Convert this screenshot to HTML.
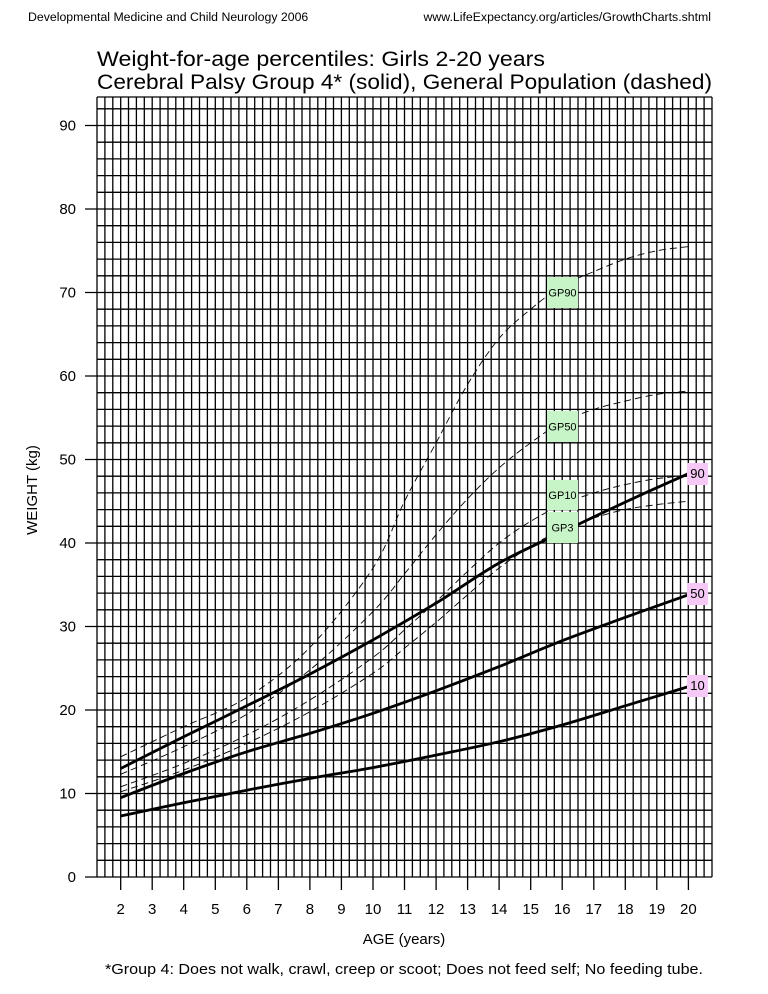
<!DOCTYPE html>
<html><head><meta charset="utf-8"><style>
html,body{margin:0;padding:0;background:#fff;width:768px;height:994px;overflow:hidden}
svg{display:block;font-family:"Liberation Sans",Arial,sans-serif}
</style></head><body>
<svg id="s" width="768" height="994" viewBox="0 0 768 994" xmlns="http://www.w3.org/2000/svg">
<text x="28" y="21" font-size="12.3">Developmental Medicine and Child Neurology 2006</text>
<text x="711" y="21" font-size="12.3" text-anchor="end">www.LifeExpectancy.org/articles/GrowthCharts.shtml</text>
<text x="97" y="66" font-size="21.5" textLength="448" lengthAdjust="spacingAndGlyphs">Weight-for-age percentiles: Girls 2-20 years</text>
<text x="97" y="89" font-size="21.5" textLength="615" lengthAdjust="spacingAndGlyphs">Cerebral Palsy Group 4* (solid), General Population (dashed)</text>
<text x="37" y="490" font-size="15" text-anchor="middle" transform="rotate(-90 37 490)">WEIGHT (kg)</text>
<text x="404" y="944" font-size="15" text-anchor="middle">AGE (years)</text>
<text x="404" y="974" font-size="15" text-anchor="middle" textLength="598" lengthAdjust="spacingAndGlyphs">*Group 4: Does not walk, crawl, creep or scoot; Does not feed self; No feeding tube.</text>
<g id="grid" stroke="#000" stroke-width="1.3" fill="none"></g>
<g id="lab" font-size="15"></g>
<g id="curves" fill="none" stroke="#000"></g>
<g id="boxes"></g>
</svg>
<script>
var NS="http://www.w3.org/2000/svg";
function X(a){return 97+(a-1.25)*31.54}
function Y(w){return 877-w*8.35}
function el(p,t,at,txt){var e=document.createElementNS(NS,t);for(var k in at)e.setAttribute(k,at[k]);if(txt!=null)e.textContent=txt;p.appendChild(e);return e}
var g=document.getElementById('grid'),d="";
for(var i=0;i<=78;i++){var x=(97+i*615/78).toFixed(1);d+="M"+x+" 97V877"}
for(var w=0;w<=92;w+=2){var y=Y(w).toFixed(1);d+="M97 "+y+"H712"}
d+="M97 97H712";
for(var w=0;w<=90;w+=10){d+="M85 "+Y(w).toFixed(1)+"H97"}
for(var a=2;a<=20;a++){d+="M"+X(a).toFixed(1)+" 877V890"}
el(g,'path',{d:d});
var lab=document.getElementById('lab');
for(var w=0;w<=90;w+=10)el(lab,'text',{x:76,y:Y(w)+5,'text-anchor':'end'},w);
for(var a=2;a<=20;a++)el(lab,'text',{x:X(a),y:914,'text-anchor':'middle'},a);
function path(pts){var p=pts.map(function(q){return[X(q[0]),Y(q[1])]});var s="M"+p[0][0].toFixed(1)+" "+p[0][1].toFixed(1);
for(var i=0;i<p.length-1;i++){var p0=p[i-1]||p[i],p1=p[i],p2=p[i+1],p3=p[i+2]||p2;
var c1=[p1[0]+(p2[0]-p0[0])/6,p1[1]+(p2[1]-p0[1])/6],c2=[p2[0]-(p3[0]-p1[0])/6,p2[1]-(p3[1]-p1[1])/6];
s+="C"+c1[0].toFixed(1)+" "+c1[1].toFixed(1)+" "+c2[0].toFixed(1)+" "+c2[1].toFixed(1)+" "+p2[0].toFixed(1)+" "+p2[1].toFixed(1)}return s}
var A=[2,4,6,8,10,11,12,13,14,15,16,17,18,19,20];
var gp=[
[14.4,18.0,21.5,27.5,37,45,52,59,64.5,68,70.8,72.5,74,75,75.5],
[12.3,15.6,19.5,24.8,31.8,36.3,41,45.3,49,52,54.5,56,57,57.8,58.2],
[10.8,13.6,17.0,21.2,26.3,29.6,33,36.6,40,42.6,44.6,46,47,47.7,48.1],
[10.2,12.8,16.0,19.8,24.4,27.4,30.5,33.8,37,39.6,41.6,43,44,44.6,45.0]];
var cp=[
[[2,13],[4,16.8],[6,20.5],[8,24.3],[10,28.4],[12,32.8],[14,37.6],[16,41.3],[18,44.9],[20,48.3]],
[[2,9.5],[4,12.4],[6,15.0],[8,17.2],[10,19.6],[12,22.3],[14,25.2],[16,28.3],[18,31.1],[20,33.8]],
[[2,7.3],[4,8.9],[6,10.4],[8,11.8],[10,13.1],[12,14.6],[14,16.2],[16,18.2],[18,20.5],[20,22.8]]];
var c=document.getElementById('curves');
gp.forEach(function(v){el(c,'path',{d:path(A.map(function(a,i){return[a,v[i]]})),'stroke-width':0.9,'stroke-dasharray':'7,4'})});
cp.forEach(function(v){el(c,'path',{d:path(v),'stroke-width':2.8})});
var b=document.getElementById('boxes');
function box(x,y,w,h,f,t,fs){el(b,'rect',{x:x,y:y,width:w,height:h,fill:f});el(b,'text',{x:x+w/2,y:y+h/2+4,'text-anchor':'middle','font-size':fs},t)}
box(547,277,31,31,'#c8f5c8','GP90',11);
box(547,411,31,31,'#c8f5c8','GP50',11);
box(547,480,31,30,'#c8f5c8','GP10',11);
box(547,512,31,31,'#c8f5c8','GP3',11);
box(687,463,21,22,'#f5c8f5','90',13);
box(687,583,21,22,'#f5c8f5','50',13);
box(687,675,21,22,'#f5c8f5','10',13);
</script>
</body></html>
